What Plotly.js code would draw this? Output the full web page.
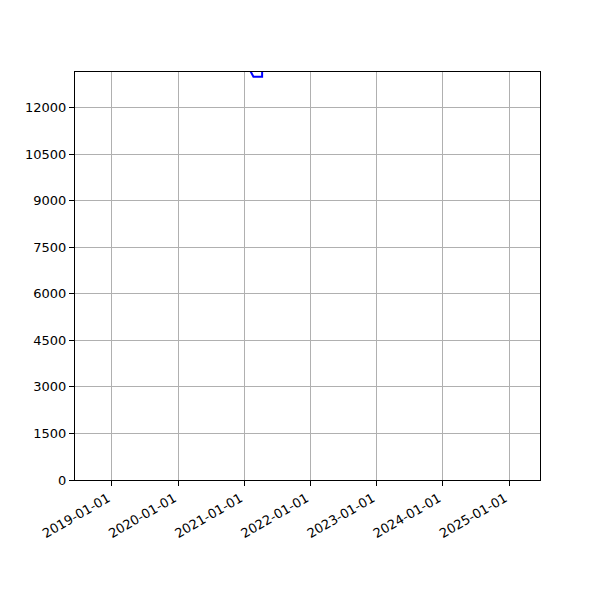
<!DOCTYPE html>
<html>
<head>
<meta charset="utf-8">
<script src="https://cdn.plot.ly/plotly-3.0.1.min.js"></script>
<style>
  body { margin: 0; background: #fff; }
  #chart { width: 600px; height: 600px; }
</style>
</head>
<body>
<div id="chart"></div>
<script>
// series: most of it sits above the visible y range
var dates = ['2018-11-15', '2019-06-01', '2020-01-01', '2020-08-01', '2021-01-28',
             '2021-02-20', '2021-04-09', '2021-04-10', '2022-01-01', '2023-01-01',
             '2024-01-01', '2025-03-27']
var values = [30000, 28000, 26000, 20000, 13250, 13000, 13000, 18000, 25000, 30000, 35000, 40000]

var yTicks = [0, 1500, 3000, 4500, 6000, 7500, 9000, 10500, 12000]
var xTicks = ['2019-01-01', '2020-01-01', '2021-01-01', '2022-01-01',
              '2023-01-01', '2024-01-01', '2025-01-01']

var axisStyle = {
  showline: true,
  linecolor: '#000',
  linewidth: 1,
  mirror: true,
  ticks: 'outside',
  ticklen: 5,
  tickcolor: '#000',
  showgrid: true,
  gridcolor: '#b0b0b0',
  gridwidth: 1,
  zeroline: false,
  tickfont: { family: 'DejaVu Sans', size: 13, color: '#000' }
}

var trace = {
  x: dates,
  y: values,
  type: 'scatter',
  mode: 'lines',
  line: { color: '#0000ff', width: 2 },
  hoverinfo: 'none'
}

var layout = {
  width: 600,
  height: 600,
  margin: { l: 75, r: 60, t: 72, b: 120 },
  paper_bgcolor: '#fff',
  plot_bgcolor: '#fff',
  showlegend: false,
  xaxis: Object.assign({}, axisStyle, {
    type: 'date',
    range: ['2018-06-11', '2025-06-21'],
    tickvals: xTicks,
    ticktext: xTicks,
    tickangle: -30,
    ticklabelshift: -4
  }),
  yaxis: Object.assign({}, axisStyle, {
    range: [0, 13150],
    tickvals: yTicks,
    ticktext: yTicks.map(String)
  })
}

Plotly.newPlot('chart', [trace], layout, { displayModeBar: false, staticPlot: true })
</script>
</body>
</html>
